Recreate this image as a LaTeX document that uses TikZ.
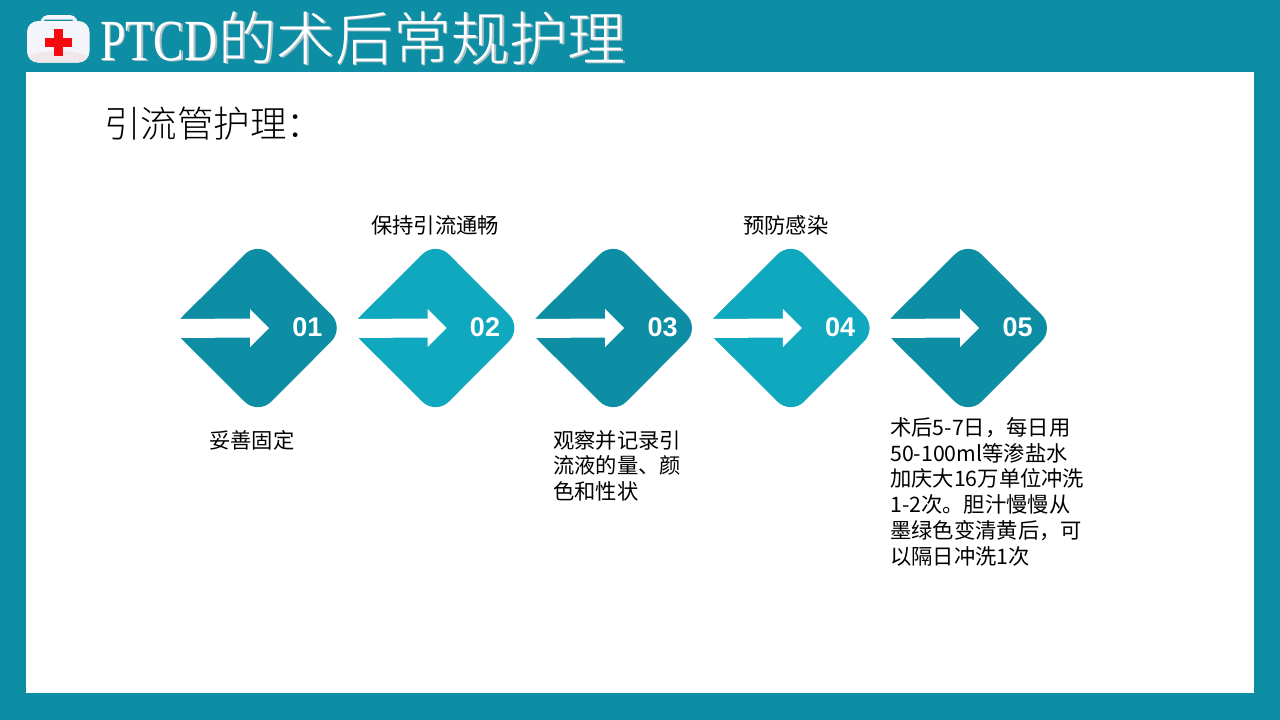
\documentclass[tikz,border=0pt]{standalone}
\usepackage{fontspec}
\setmainfont{Noto Sans CJK SC}
\newfontfamily\cjkf{Noto Sans CJK SC}
\newfontfamily\cjklight{Noto Sans CJK SC Light}
\newfontfamily\latinserif[FakeStretch=0.79]{Liberation Serif}
\newfontfamily\numf{Liberation Sans}
\definecolor{tealdark}{HTML}{0D8EA4}
\definecolor{teallight}{HTML}{10A8BF}
\definecolor{shadowgray}{HTML}{A9C0C6}
\definecolor{kitwhite}{HTML}{F4F5FA}
\definecolor{kitshade}{HTML}{EFE7E9}
\definecolor{kitred}{HTML}{F70A0F}
\tikzset{
  x=1pt,y=-1pt,
  stepnum/.style={text=white,font=\numf\bfseries\fontsize{27}{30}\selectfont,inner sep=0pt},
  bodytext/.style={text=black,font=\cjkf\fontsize{21.3}{25.8}\selectfont,inner sep=0pt,align=left,anchor=north west},
  titletext/.style={inner sep=0pt,anchor=west},
}
\newcommand{\titlestr}{{\latinserif PTCD}{\cjklight\hspace{1pt}的术后常规护理}}
\begin{document}
\begin{tikzpicture}
\useasboundingbox (0,0) rectangle (1280,720);
\fill[tealdark] (0,0) rectangle (1280,720);
\fill[white] (26,72) rectangle (1254,693);
% kit icon
\fill[kitwhite,rounded corners=5pt] (39,24) -- (43,15) -- (75,15) -- (79,24) -- cycle;
\fill[tealdark,rounded corners=1pt] (44,19.5) rectangle (73,21);
\begin{scope}
\clip[rounded corners=11pt] (27,21) rectangle (89.5,62.5);
\fill[kitwhite] (27,21) rectangle (89.5,62.5);
\fill[kitshade] (27,62.5) -- (27,57) .. controls (40,49) and (76,49) .. (89.5,57) -- (89.5,62.5) -- cycle;
\end{scope}
\fill[kitred] (53.5,28.5) rectangle (62.8,56);
\fill[kitred] (44.5,37.5) rectangle (71.5,46.8);
% title
\node[titletext,text=shadowgray,font=\fontsize{58.2}{64}\selectfont] (titleshadow) at (101.6,39.6) {\titlestr};
\node[titletext,text=white,font=\fontsize{58.2}{64}\selectfont] (title) at (100,38) {\titlestr};
% heading
\node[inner sep=0pt,anchor=west,font=\cjklight\fontsize{36.5}{40}\selectfont,text=black] (heading) at (104,124) {引流管护理：};
% diamonds
\foreach \i/\dx/\col in {1/0/tealdark,2/177.6/teallight,3/355.2/tealdark,4/532.8/teallight,5/710.2/tealdark}{
  \begin{scope}[xshift=\dx pt]
    \begin{scope}
      \clip (180,230) rectangle (350,425);
      \fill[\col,rounded corners=19pt] (171,328) -- (258,241) -- (344.6,328) -- (258,415) -- cycle;
      \fill[\col] (171,328) -- (200,299) -- (200,357) -- cycle;
    \end{scope}
    \fill[white] (179,319) -- (250,318.5) -- (250,309) -- (269,328) -- (250,347) -- (250,337.5) -- (179,338) -- cycle;
    \node[stepnum] (num\i) at (307.4,327.5) {0\i};
  \end{scope}
}
% labels
\node[bodytext] (lab1) at (209,430) {妥善固定};
\node[bodytext] (lab2) at (371,215) {保持引流通畅};
\node[bodytext] (lab3) at (553,430) {观察并记录引\\流液的量、颜\\色和性状};
\node[bodytext] (lab4) at (743,215) {预防感染};
\node[bodytext] (lab5) at (890,417) {术后5-7日，每日用\\50-100ml等渗盐水\\加庆大16万单位冲洗\\1-2次。胆汁慢慢从\\墨绿色变清黄后，可\\以隔日冲洗1次};
\end{tikzpicture}
\end{document}
